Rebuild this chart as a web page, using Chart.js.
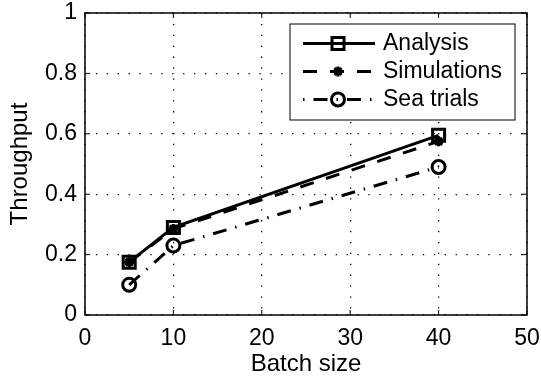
<!DOCTYPE html>
<html>
<head>
<meta charset="utf-8">
<script src="https://cdn.jsdelivr.net/npm/chart.js@4.4.1/dist/chart.umd.min.js"></script>
<style>
    body { margin: 0; background: #fff; }
</style>
</head>
<body>
<canvas id="throughputChart" width="541" height="384"></canvas>
<script>
// ========================================
// THROUGHPUT VS BATCH SIZE
// ========================================

const batchSizes = [5, 10, 40];
const analysisValues = [0.175, 0.29, 0.595];
const simulationValues = [0.175, 0.285, 0.575];
const seaTrialValues = [0.10, 0.23, 0.49];
const seriesNames = ['Analysis', 'Simulations', 'Sea trials'];
const xTickValues = [0, 10, 20, 30, 40, 50];
const yTickValues = [0, 0.2, 0.4, 0.6, 0.8, 1];

const FONT_FAMILY = "'Liberation Sans', Arial, Helvetica, sans-serif";

function toPoints(values) {
    return values.map((v, i) => ({ x: batchSizes[i], y: v }));
}

// Box around plot area + inward tick marks (MATLAB style)
const axesBox = {
    id: 'axesBox',
    afterDatasetsDraw(chart) {
        const { ctx, chartArea: a, scales } = chart;
        ctx.save();
        ctx.strokeStyle = '#000';
        ctx.lineWidth = 1.5;
        ctx.setLineDash([]);
        ctx.strokeRect(a.left, a.top, a.right - a.left, a.bottom - a.top);
        ctx.lineWidth = 1;
        ctx.beginPath();
        xTickValues.forEach(v => {
            const px = scales.x.getPixelForValue(v);
            ctx.moveTo(px, a.bottom); ctx.lineTo(px, a.bottom - 5);
            ctx.moveTo(px, a.top); ctx.lineTo(px, a.top + 5);
        });
        yTickValues.forEach(v => {
            const py = scales.y.getPixelForValue(v);
            ctx.moveTo(a.left, py); ctx.lineTo(a.left + 5, py);
            ctx.moveTo(a.right, py); ctx.lineTo(a.right - 5, py);
        });
        ctx.stroke();
        ctx.restore();
    }
};

// Legend box with line sample and marker in the middle
const lineLegend = {
    id: 'lineLegend',
    afterDraw(chart) {
        const ctx = chart.ctx;
        const boxX = 290, boxY = 24, boxW = 225, boxH = 96;
        ctx.save();
        ctx.fillStyle = '#fff';
        ctx.fillRect(boxX, boxY, boxW, boxH);
        ctx.strokeStyle = '#000';
        ctx.lineWidth = 1;
        ctx.setLineDash([]);
        ctx.strokeRect(boxX, boxY, boxW, boxH);

        chart.data.datasets.forEach((ds, i) => {
            const y = 43.5 + i * 28;
            ctx.strokeStyle = ds.borderColor;
            ctx.lineWidth = ds.borderWidth;
            ctx.setLineDash(ds.borderDash || []);
            // dash-dot sample starts on the dot, like the original
            ctx.lineDashOffset = (ds.borderDash && ds.borderDash.length === 4) ? 23 : 0;
            ctx.beginPath();
            ctx.moveTo(303, y);
            ctx.lineTo(375, y);
            ctx.stroke();

            ctx.setLineDash([]);
            ctx.lineDashOffset = 0;
            ctx.lineWidth = ds.pointBorderWidth;
            ctx.fillStyle = 'rgba(0,0,0,0)';
            Chart.helpers.drawPoint(ctx, {
                pointStyle: ds.pointStyle,
                radius: ds.pointRadius,
                rotation: 0,
                borderWidth: ds.pointBorderWidth
            }, 338, y);

            ctx.fillStyle = '#000';
            ctx.font = '23px ' + FONT_FAMILY;
            ctx.textBaseline = 'middle';
            ctx.textAlign = 'left';
            ctx.fillText(seriesNames[i], 383, y);
        });
        ctx.restore();
    }
};

const ctx = document.getElementById('throughputChart').getContext('2d');
const throughputChart = new Chart(ctx, {
    type: 'line',
    data: {
        datasets: [
            {
                label: seriesNames[0],
                data: toPoints(analysisValues),
                borderColor: '#000',
                borderWidth: 3,
                pointStyle: 'rect',
                pointRadius: 8.5,
                pointBorderWidth: 3,
                pointBackgroundColor: 'rgba(0,0,0,0)',
                pointBorderColor: '#000',
                tension: 0
            },
            {
                label: seriesNames[1],
                data: toPoints(simulationValues),
                borderColor: '#000',
                borderWidth: 3,
                borderDash: [14, 13],
                pointStyle: 'star',
                pointRadius: 5,
                pointBorderWidth: 3,
                pointBackgroundColor: 'rgba(0,0,0,0)',
                pointBorderColor: '#000',
                tension: 0
            },
            {
                label: seriesNames[2],
                data: toPoints(seaTrialValues),
                borderColor: '#000',
                borderWidth: 3,
                borderDash: [14, 9, 1.5, 9],
                pointStyle: 'circle',
                pointRadius: 6.5,
                pointBorderWidth: 3,
                pointBackgroundColor: 'rgba(0,0,0,0)',
                pointBorderColor: '#000',
                tension: 0
            }
        ]
    },
    options: {
        responsive: false,
        animation: false,
        events: [],
        devicePixelRatio: 1,
        layout: {
            padding: { top: 13, right: 14, left: 0, bottom: 0 }
        },
        plugins: {
            legend: { display: false },
            tooltip: { enabled: false }
        },
        scales: {
            x: {
                type: 'linear',
                min: 0,
                max: 50,
                afterBuildTicks: scale => {
                    scale.ticks = xTickValues.map(v => ({ value: v }));
                },
                afterFit: scale => {
                    scale.height = 69;
                    scale.paddingLeft = 0;
                    scale.paddingRight = 0;
                },
                ticks: {
                    color: '#000',
                    padding: 10,
                    maxRotation: 0,
                    font: { family: FONT_FAMILY, size: 23 }
                },
                grid: {
                    color: '#000',
                    lineWidth: 1.3,
                    drawTicks: false
                },
                border: { display: false, dash: [1.3, 9.6] },
                title: {
                    display: true,
                    text: 'Batch size',
                    color: '#000',
                    padding: { top: 5, bottom: 5 },
                    font: { family: FONT_FAMILY, size: 24 }
                }
            },
            y: {
                type: 'linear',
                min: 0,
                max: 1,
                afterBuildTicks: scale => {
                    scale.ticks = yTickValues.map(v => ({ value: v }));
                },
                afterFit: scale => {
                    scale.width = 85;
                    scale.paddingTop = 0;
                    scale.paddingBottom = 0;
                },
                ticks: {
                    color: '#000',
                    padding: 8,
                    callback: v => String(v),
                    font: { family: FONT_FAMILY, size: 23 }
                },
                grid: {
                    color: '#000',
                    lineWidth: 1.3,
                    drawTicks: false
                },
                border: { display: false, dash: [1.3, 9.6] },
                title: {
                    display: true,
                    text: 'Throughput',
                    color: '#000',
                    padding: { top: 6, bottom: 6 },
                    font: { family: FONT_FAMILY, size: 24 }
                }
            }
        }
    },
    plugins: [axesBox, lineLegend]
});
</script>
</body>
</html>
